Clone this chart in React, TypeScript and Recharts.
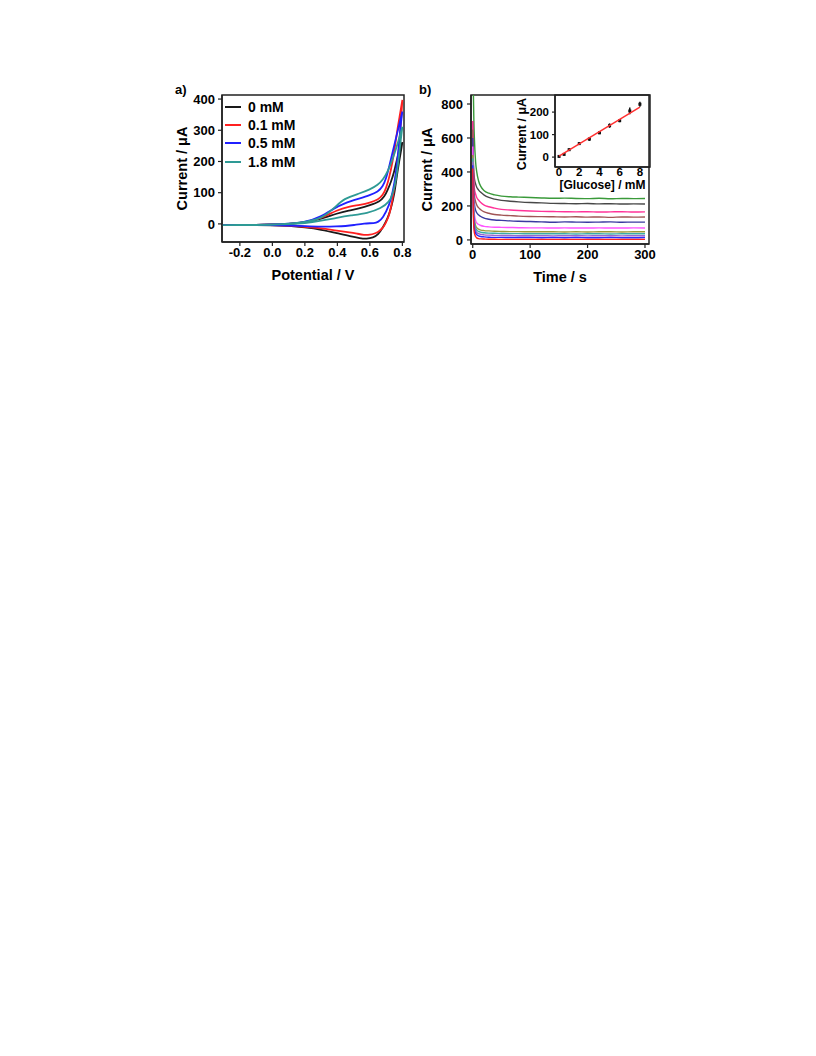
import React from 'react';
import {
  LineChart, Line, XAxis, YAxis, ReferenceArea, Label, ComposedChart, Scatter, ErrorBar,
} from 'recharts';

const FONT = "'Liberation Sans', Arial, Helvetica, sans-serif";

// ---------- Panel a: cyclic voltammograms ----------
const cvNames = ['0 mM', '0.1 mM', '0.5 mM', '1.8 mM'];
const cvColors = ['#1a1a1a', '#ff2020', '#2020ff', '#2e9a95'];

const cv0V = [-0.31, -0.31, -0.2, -0.1, 0, 0.1, 0.2, 0.3, 0.4, 0.47, 0.54, 0.6, 0.66, 0.69, 0.71, 0.73, 0.75, 0.77, 0.79, 0.8, 0.8, 0.8,
  0.79, 0.78, 0.765, 0.75, 0.73, 0.71, 0.68, 0.65, 0.62, 0.58, 0.54, 0.48, 0.4, 0.3, 0.2, 0.1, 0, -0.1, -0.2, -0.31, -0.31];
const cv0I = [-4, -4, -3, -3, -2, 0, 4, 16, 34, 43, 50, 60, 71, 88, 109, 135, 167, 215, 250, 262, 262, 262,
  228, 200, 150, 93, 50, 18, -12, -35, -44, -48, -46, -40, -30, -18, -11, -6, -4, -4, -4, -4, -4];

const cv1V = [-0.31, -0.31, -0.2, -0.1, 0, 0.1, 0.2, 0.3, 0.4, 0.47, 0.54, 0.6, 0.65, 0.68, 0.7, 0.72, 0.74, 0.755, 0.77, 0.785, 0.8, 0.8, 0.8,
  0.79, 0.78, 0.765, 0.75, 0.735, 0.72, 0.7, 0.68, 0.65, 0.63, 0.6, 0.565, 0.52, 0.48, 0.4, 0.3, 0.2, 0.1, 0, -0.2, -0.31, -0.31];
const cv1I = [-4, -4, -3, -3, -2, 0, 4, 18, 45, 55, 61, 68, 77, 92, 114, 150, 200, 250, 306, 350, 397, 397, 397,
  320, 242, 175, 114, 65, 29, 5, -14, -26, -31, -35, -36, -31, -27, -22, -14, -9, -5, -4, -4, -4, -4];

const cv2V = [-0.31, -0.31, -0.2, -0.1, 0, 0.1, 0.2, 0.3, 0.38, 0.44, 0.54, 0.6, 0.65, 0.68, 0.7, 0.72, 0.74, 0.77, 0.8, 0.8, 0.8,
  0.79, 0.78, 0.76, 0.74, 0.72, 0.68, 0.65, 0.63, 0.565, 0.5, 0.45, 0.4, 0.3, 0.2, 0.1, 0, -0.2, -0.31, -0.31];
const cv2I = [-4, -4, -3, -3, -2, 0, 5, 23, 50, 66, 82, 92, 103, 120, 146, 185, 231, 295, 360, 360, 360,
  320, 260, 157, 100, 61, 18, 6, 2, 2, -4, -7, -8, -9, -7, -5, -4, -4, -4, -4];

const cv3V = [-0.31, -0.31, -0.2, -0.1, 0, 0.1, 0.2, 0.3, 0.38, 0.44, 0.54, 0.6, 0.65, 0.68, 0.71, 0.75, 0.78, 0.8, 0.8, 0.8,
  0.79, 0.78, 0.76, 0.74, 0.72, 0.67, 0.585, 0.48, 0.4, 0.3, 0.2, 0.1, 0, -0.2, -0.31, -0.31];
const cv3I = [-4, -4, -3, -3, -2, 0, 6, 16, 50, 82, 98, 110, 125, 142, 167, 221, 274, 311, 311, 311,
  270, 221, 135, 95, 71, 50, 34, 27, 20, 10, 2, -1, -3, -4, -4, -4];

const cvV = [cv0V, cv1V, cv2V, cv3V];
const cvI = [cv0I, cv1I, cv2I, cv3I];
const cvTicks = [-0.2, 0, 0.2, 0.4, 0.6, 0.8];
const cvYTicks = [0, 100, 200, 300, 400];

// ---------- Panel b: amperometric i-t curves ----------
const times = [0, 1, 2, 3, 5, 7, 10, 14, 20, 28, 38, 50, 65, 80, 100, 120, 140, 160, 180, 200, 220, 240, 260, 280, 300];
const itColors = ['#3a9a3a', '#484848', '#ff3399', '#a05555', '#3a3aa0', '#ff55ff', '#9a9a3a', '#3aaaaa', '#9966cc', '#2a2aff', '#ff2020'];
const itGreen = [1100, 900, 700, 590, 460, 400, 350, 315, 290, 275, 265, 258, 254, 252, 250, 247, 245, 246, 244, 243, 245, 242, 244, 243, 244];
const itGray = [700, 480, 400, 360, 330, 310, 295, 280, 264, 250, 240, 233, 228, 224, 220, 218, 215, 214, 213, 214, 212, 213, 211, 212, 211];
const itPink = [700, 450, 350, 300, 270, 250, 235, 220, 205, 195, 187, 180, 176, 173, 170, 168, 167, 166, 165, 166, 164, 165, 166, 164, 165];
const itBrown = [650, 400, 300, 260, 225, 205, 190, 178, 165, 157, 150, 146, 143, 140, 138, 137, 136, 135, 136, 134, 135, 133, 135, 134, 135];
const itNavy = [600, 350, 250, 210, 175, 160, 148, 138, 128, 122, 117, 115, 112, 110, 108, 106, 104, 106, 105, 104, 105, 106, 104, 105, 105];
const itMagenta = [550, 300, 190, 150, 115, 100, 92, 85, 80, 77, 75, 74, 73, 72, 71, 71, 70, 71, 70, 70, 71, 70, 70, 71, 70];
const itOlive = [500, 260, 160, 120, 85, 72, 64, 58, 55, 53, 51, 50, 49, 49, 48, 48, 48, 47, 48, 47, 48, 48, 47, 48, 48];
const itTeal = [480, 240, 140, 100, 70, 58, 50, 45, 42, 40, 39, 38, 37, 37, 36, 36, 36, 36, 35, 36, 36, 35, 36, 36, 36];
const itViolet = [460, 220, 120, 80, 55, 44, 37, 33, 30, 28, 27, 26, 26, 25, 25, 25, 24, 25, 25, 24, 25, 25, 24, 25, 25];
const itBlue = [440, 200, 100, 65, 40, 30, 24, 20, 18, 16, 15, 15, 14, 14, 14, 13, 14, 13, 14, 13, 13, 14, 13, 13, 14];
const itRed = [420, 160, 70, 40, 20, 12, 8, 6, 5, 4, 4, 3, 3, 3, 3, 3, 3, 3, 3, 3, 3, 3, 3, 3, 3];
const itSeries = [itGreen, itGray, itPink, itBrown, itNavy, itMagenta, itOlive, itTeal, itViolet, itBlue, itRed];
const itXTicks = [0, 100, 200, 300];
const itYTicks = [0, 200, 400, 600, 800];

// ---------- Inset: calibration ----------
const glucose = [0, 0.5, 1, 2, 3, 4, 5, 6, 7, 8];
const calCurrent = [3, 12, 33, 60, 80, 108, 140, 162, 205, 235];
const calError = [3, 4, 5, 6, 8, 6, 10, 7, 15, 11];
const fitX = [0, 8];
const fitY = [4, 222];
const insetXTicks = [0, 2, 4, 6, 8];
const insetYTicks = [0, 100, 200];

const cvData = cvV.map((vs, k) => vs.map((v, j) => ({ v, i: cvI[k][j] })));
const itData = times.map((t, j) => {
  const row: Record<string, number> = { t };
  itSeries.forEach((s, k) => { row['s' + k] = s[j]; });
  return row;
});
const calData = glucose.map((x, j) => ({ x, y: calCurrent[j], err: calError[j] }));
const fitData = fitX.map((x, j) => ({ x, y: fitY[j] }));

const AX = '#222';
const tickStyle = (size: number) => ({ fontSize: size, fontWeight: 700, fill: '#000', fontFamily: FONT });

const yTitle = (text: string, dx: number, size: number, dy = 0) => (props: any) => {
  const vb = props.viewBox || {};
  const cx = vb.x + dx;
  const cy = vb.y + vb.height / 2 + dy;
  return (
    <text x={cx} y={cy} transform={`rotate(-90 ${cx} ${cy})`} textAnchor="middle" dominantBaseline="central"
      style={{ fontSize: size, fontWeight: 700, fontFamily: FONT, fill: '#000' }}>{text}</text>
  );
};
const xTitle = (text: string, dy: number, size: number) => (props: any) => {
  const vb = props.viewBox || {};
  return (
    <text x={vb.x + vb.width / 2} y={vb.y + dy} textAnchor="middle"
      style={{ fontSize: size, fontWeight: 700, fontFamily: FONT, fill: '#000' }}>{text}</text>
  );
};

const Square = (props: any) => {
  const { cx, cy } = props;
  if (cx == null || cy == null) return null;
  return <rect x={cx - 1.5} y={cy - 1.5} width={3} height={3} fill="#111" />;
};
const NoShape = () => null;

export default function App() {
  return (
    <div style={{ position: 'absolute', left: 0, top: 0, width: 816, height: 1056, background: '#fff', fontFamily: FONT }}>
      <div style={{ position: 'absolute', left: 175, top: 82, fontSize: 13, fontWeight: 700 }}>a)</div>
      <div style={{ position: 'absolute', left: 419, top: 82, fontSize: 13, fontWeight: 700 }}>b)</div>

      {/* Panel a */}
      <div style={{ position: 'absolute', left: 160, top: 85 }}>
        <LineChart width={260} height={210} margin={{ top: 10, right: 16, bottom: 8, left: 22 }}>
          <XAxis type="number" dataKey="v" domain={[-0.31, 0.81]} ticks={cvTicks} allowDataOverflow
            tickFormatter={(v: number) => v.toFixed(1)} height={45} tickSize={4} tickMargin={2}
            tick={tickStyle(13)} tickLine={{ stroke: AX, strokeWidth: 1.2 }} axisLine={{ stroke: AX, strokeWidth: 1.5 }}>
            <Label content={xTitle('Potential / V', 38, 14.5)} />
          </XAxis>
          <YAxis type="number" domain={[-58, 413]} ticks={cvYTicks} allowDataOverflow width={40} tickSize={4} tickMargin={3}
            tick={tickStyle(13)} tickLine={{ stroke: AX, strokeWidth: 1.2 }} axisLine={{ stroke: AX, strokeWidth: 1.5 }}>
            <Label content={yTitle('Current / μA', 0, 14.5)} />
          </YAxis>
          <ReferenceArea x1={-0.31} x2={0.81} y1={-58} y2={413} fill="none" stroke={AX} strokeWidth={1.5} />
          {cvData.map((d, k) => (
            <Line key={k} data={d} dataKey="i" type="basis" stroke={cvColors[k]} strokeWidth={1.8}
              dot={false} isAnimationActive={false} />
          ))}
        </LineChart>
      </div>

      {/* Legend a */}
      {cvNames.map((n, k) => (
        <div key={n} style={{ position: 'absolute', left: 224, top: 107 + k * 18.2 - 9, height: 18, display: 'flex', alignItems: 'center' }}>
          <svg width={18} height={18} style={{ display: 'block' }}>
            <line x1={1} y1={9} x2={17} y2={9} stroke={cvColors[k]} strokeWidth={2} />
          </svg>
          <span style={{ marginLeft: 6, fontSize: 14, fontWeight: 700, lineHeight: '18px', color: '#000' }}>{n}</span>
        </div>
      ))}

      {/* Panel b */}
      <div style={{ position: 'absolute', left: 405, top: 85 }}>
        <LineChart width={260} height={210} data={itData} margin={{ top: 10, right: 16, bottom: 6, left: 22 }}>
          <XAxis type="number" dataKey="t" domain={[-3, 307]} ticks={itXTicks} allowDataOverflow height={45}
            tickSize={4} tickMargin={2} tick={tickStyle(13)} tickLine={{ stroke: AX, strokeWidth: 1.2 }}
            axisLine={{ stroke: AX, strokeWidth: 1.5 }}>
            <Label content={xTitle('Time / s', 38, 14.5)} />
          </XAxis>
          <YAxis type="number" domain={[-24, 853]} ticks={itYTicks} allowDataOverflow width={44} tickSize={4} tickMargin={4}
            tick={tickStyle(13)} tickLine={{ stroke: AX, strokeWidth: 1.2 }} axisLine={{ stroke: AX, strokeWidth: 1.5 }}>
            <Label content={yTitle('Current / μA', 0, 14.5)} />
          </YAxis>
          <ReferenceArea x1={-3} x2={307} y1={-24} y2={853} fill="none" stroke={AX} strokeWidth={1.5} />
          {itSeries.map((_, k) => (
            <Line key={k} dataKey={'s' + k} type="monotone" stroke={itColors[k]} strokeWidth={1.4}
              dot={false} isAnimationActive={false} />
          ))}
        </LineChart>
      </div>

      {/* Inset */}
      <div style={{ position: 'absolute', left: 510, top: 85 }}>
        <ComposedChart width={150} height={120} margin={{ top: 10, right: 10, bottom: 6, left: 15 }}>
          <XAxis type="number" dataKey="x" domain={[-0.4, 9.0]} ticks={insetXTicks} allowDataOverflow height={32}
            tickSize={2} tickMargin={-1} tick={tickStyle(11.5)} tickLine={{ stroke: AX, strokeWidth: 1.2 }}
            axisLine={{ stroke: AX, strokeWidth: 1.5 }}>
            <Label content={xTitle('[Glucose] / mM', 22, 12)} />
          </XAxis>
          <YAxis type="number" dataKey="y" domain={[-44, 276]} ticks={insetYTicks} allowDataOverflow width={30}
            tickSize={3} tickMargin={3} tick={tickStyle(11.5)} tickLine={{ stroke: AX, strokeWidth: 1.2 }}
            axisLine={{ stroke: AX, strokeWidth: 1.5 }}>
            <Label content={yTitle('Current / μA', -3, 12.5, 3)} />
          </YAxis>
          <ReferenceArea x1={-0.4} x2={9.0} y1={-44} y2={276} fill="#fff" fillOpacity={0} stroke={AX} strokeWidth={1.5} />
          <Scatter data={calData} dataKey="y" shape={Square} isAnimationActive={false}>
            <ErrorBar dataKey="err" direction="y" width={0} stroke="#111" strokeWidth={1.5} />
          </Scatter>
          <Scatter data={fitData} dataKey="y" shape={NoShape} line={{ stroke: '#ff3030', strokeWidth: 1.5 }}
            isAnimationActive={false} />
        </ComposedChart>
      </div>
    </div>
  );
}
